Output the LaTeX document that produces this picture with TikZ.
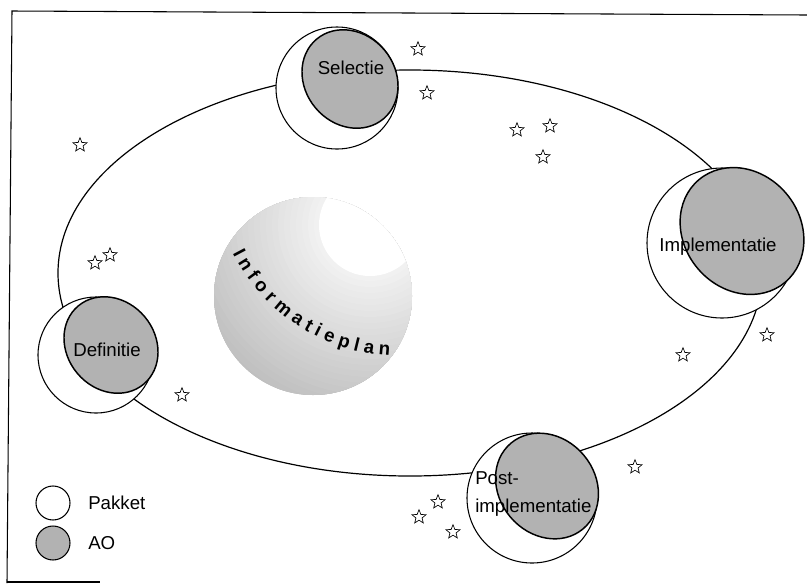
\documentclass[tikz,border=0pt]{standalone}
\usepackage{fontspec}
\setmainfont{Liberation Sans}
\usetikzlibrary{shapes.geometric,decorations.text}
\definecolor{aofill}{gray}{0.70}
\begin{document}
\begin{tikzpicture}[x=0.75pt,y=-0.75pt,
  pakket/.style={circle, draw, fill=white, line width=0.8pt, inner sep=0},
  aoshape/.style={ellipse, draw, fill=aofill, line width=1.1pt, inner sep=0, rotate=-50},
  lbl/.style={font=\fontsize{14}{21}\selectfont, inner sep=0},
  starmark/.style={star, star points=5, star point ratio=2.3, draw, line width=0.5pt, minimum size=11pt, inner sep=0}]
\useasboundingbox (0,0) rectangle (807,583);
% frame
\coordinate (fbl) at (7,583);
\coordinate (ftl) at (12,11);
\coordinate (ftr) at (807,15);
\coordinate (fb1) at (7,582);
\coordinate (fb2) at (100,582);
\draw[line width=0.8pt] (fbl) -- (ftl) -- (ftr);
\draw[line width=0.8pt] (fb1) -- (fb2);
% orbit
\node[ellipse, draw, line width=0.9pt, minimum width=528pt, minimum height=304.5pt, inner sep=0] (orbit) at (410,273) {};
% informatieplan disk
\begin{scope}
\clip (313,296) circle[radius=99];
\foreach \i in {0,...,24} {
  \pgfmathsetmacro\rr{200-6*\i}
  \pgfmathsetmacro\pp{26-0.85*\i}
  \fill[black!\pp] (370,225) circle[radius=\rr];
}
\fill[white] (370,225) circle[radius=51];
\end{scope}
\path[decorate, decoration={text along path, text={|\fontsize{14}{16}\selectfont\bfseries|I n f o r m a t i e p l a n}, text align=center}]
  (400,168) ++(158:188) arc[start angle=158, end angle=88, radius=188];
% Selectie
\node[pakket, minimum size=91.5pt] (selP) at (337,88) {};
\node[aoshape, minimum width=78pt, minimum height=67.5pt] (selA) at (350,79) {};
\node[lbl] (selT) at (351,68) {Selectie};
% Implementatie
\node[pakket, minimum size=112.5pt] (impP) at (722,243) {};
\node[aoshape, minimum width=100.5pt, minimum height=87pt] (impA) at (742,231) {};
\node[lbl] (impT) at (718,247) {Implementatie};
% Definitie
\node[pakket, minimum size=87pt] (defP) at (96,355) {};
\node[aoshape, minimum width=76.5pt, minimum height=66pt] (defA) at (111,345) {};
\node[lbl] (defT) at (107,350) {Definitie};
% Post-implementatie
\node[pakket, minimum size=97.5pt] (postP) at (532,498) {};
\node[aoshape, minimum width=84pt, minimum height=72pt] (postA) at (547,486) {};
\node[lbl, align=left, anchor=west] (postT) at (475,494) {Post-\\implementatie};
% stars
\foreach \sx/\sy [count=\i] in {418/49, 427/93, 517/130, 550/126, 543/157, 80/145, 95/263, 110/255, 182/395, 683/355, 767/335, 635/467, 438/502, 419/517, 453/532}
  \node[starmark] (s\i) at (\sx,\sy) {};
% legend
\node[pakket, minimum size=25.5pt] (legP) at (53,503) {};
\node[circle, draw, fill=aofill, line width=0.8pt, inner sep=0, minimum size=25.5pt] (legA) at (53,543) {};
\node[lbl, anchor=west] (legPT) at (88,503) {Pakket};
\node[lbl, anchor=west] (legAT) at (88,543) {AO};
\end{tikzpicture}
\end{document}
